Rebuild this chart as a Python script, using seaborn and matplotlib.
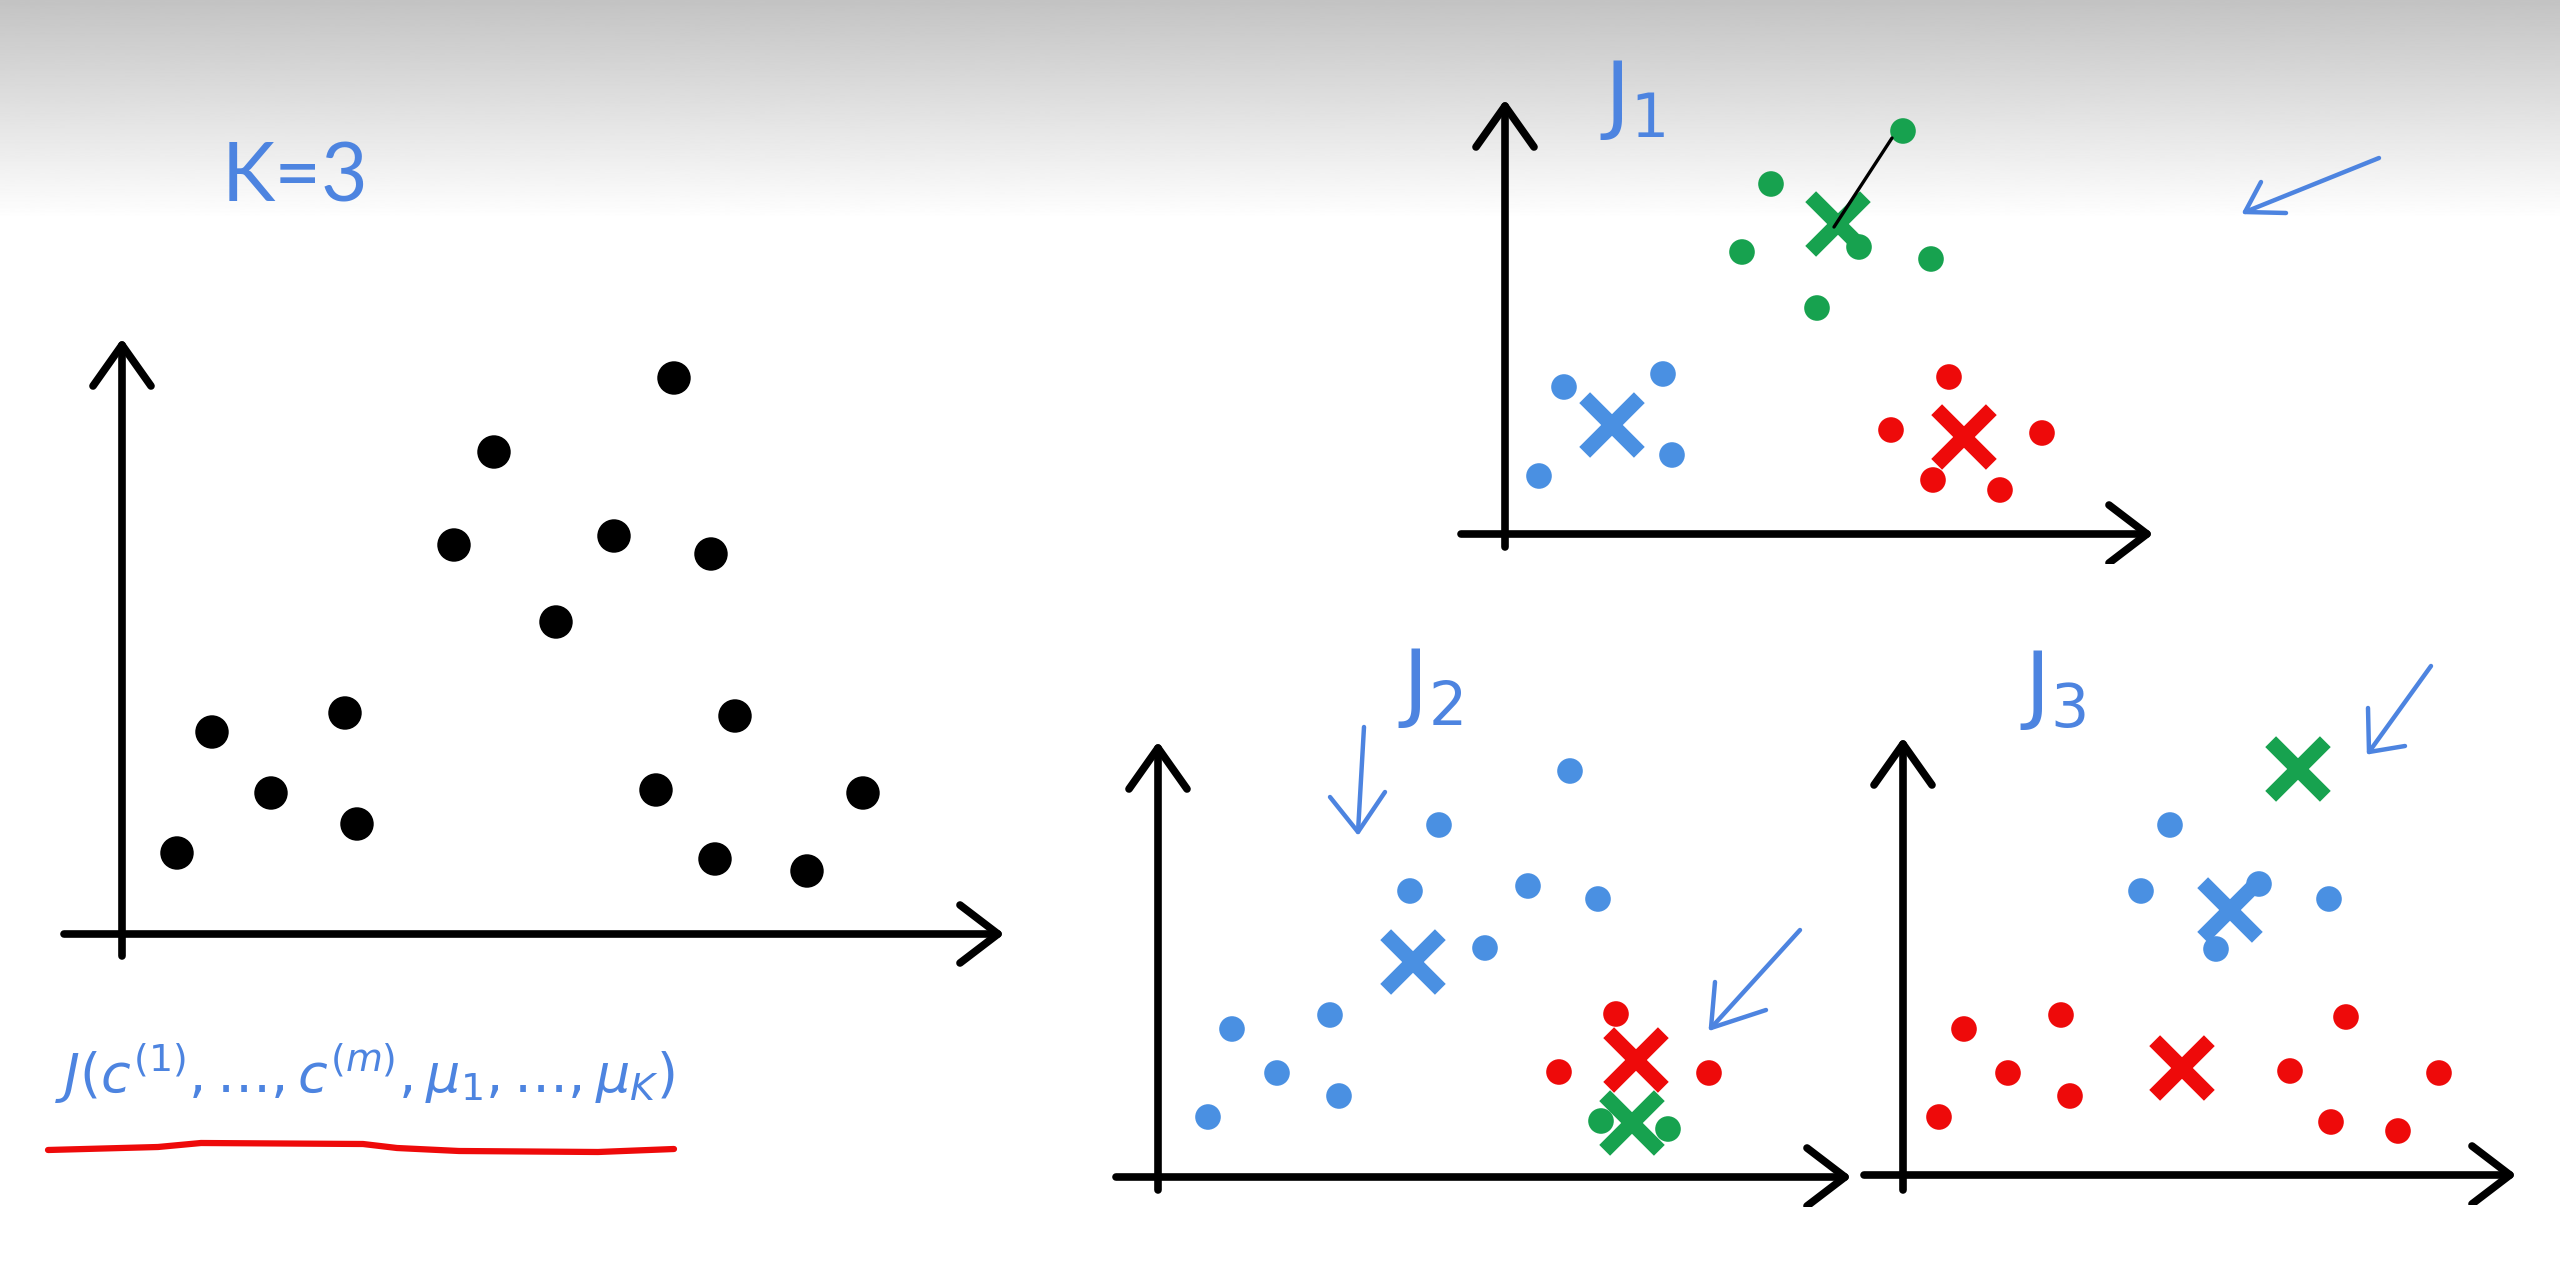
import numpy as np
import pandas as pd
import seaborn as sns
import matplotlib.pyplot as plt

sns.set_style("white")
plt.rcParams['font.family'] = ['Lato', 'DejaVu Sans']
plt.rcParams['mathtext.fontset'] = 'dejavusans'

W, H = 2560, 1262
INK = "#4d84e0"
pal = {"blue": "#4a90e2", "red": "#ee0a0a", "green": "#17a24f", "black": "black"}

# raw data, K=3 (coords from the axis origin)
raw_x = [55, 90, 149, 223, 235, 332, 372, 434, 492, 552, 589, 613, 534, 593, 685, 741]
raw_y = [81, 202, 141, 221, 110, 389, 482, 312, 398, 556, 380, 218, 144, 75, 63, 141]

# J1
j1_x = [398, 266, 237, 312, 426, 354, 59, 158, 34, 167, 444, 386, 537, 428, 495]
j1_y = [403, 350, 282, 226, 275, 287, 147, 160, 58, 79, 157, 104, 101, 54, 44]
j1_c = ["green"] * 6 + ["blue"] * 4 + ["red"] * 5
j1_mx = [333, 107, 459]
j1_my = [310, 109, 97]
j1_mc = ["green", "blue", "red"]

# J2
j2_x = [412, 281, 252, 370, 440, 327, 172, 74, 119, 181, 50, 458, 401, 551, 443, 510]
j2_y = [406, 352, 286, 291, 278, 229, 162, 148, 104, 81, 60, 163, 105, 104, 56, 48]
j2_c = ["blue"] * 11 + ["red"] * 3 + ["green"] * 2
j2_mx = [255, 478, 474]
j2_my = [215, 117, 54]
j2_mc = ["blue", "red", "green"]

# J3
j3_x = [267, 238, 426, 356, 313, 61, 158, 105, 167, 36, 443, 387, 536, 428, 495]
j3_y = [350, 284, 276, 291, 226, 146, 160, 102, 79, 58, 158, 104, 102, 53, 44]
j3_c = ["blue"] * 5 + ["red"] * 10
j3_mx = [395, 327, 279]
j3_my = [406, 265, 107]
j3_mc = ["green", "blue", "red"]

fig = plt.figure(figsize=(25.6, 12.62), dpi=100)

# background + handwriting
bg = fig.add_axes([0, 0, 1, 1])
bg.set_xlim(0, W)
bg.set_ylim(H, 0)
bg.axis('off')
grad = np.linspace(195, 255, 256) / 255.0
bg.imshow(np.repeat(grad[:, None], 2, axis=1), cmap='gray', vmin=0, vmax=1,
          extent=[0, W, 220, 0], aspect='auto', zorder=0)
bg.text(222, 178, "K=3", color=INK, fontsize=58, va='center', ha='left')
bg.text(1600, 100, r"$\mathrm{J}_1$", color=INK, fontsize=62, va='center', ha='left')
bg.text(1398, 688, r"$\mathrm{J}_2$", color=INK, fontsize=62, va='center', ha='left')
bg.text(2020, 690, r"$\mathrm{J}_3$", color=INK, fontsize=62, va='center', ha='left')
bg.text(55, 1092, r"$J(c^{(1)},\ldots,c^{(m)},\mu_1,\ldots,\mu_K)$", color=INK,
        fontsize=39, va='baseline', ha='left')
bg.plot([48, 158, 201, 363, 397, 459, 598, 674], [1150, 1147, 1143, 1144, 1148, 1151, 1152, 1149],
        color="#ee0a0a", lw=4.5, solid_capstyle='round')


def panel(ox, oy, x0, x1, y0, y1):
    ax = fig.add_axes([(ox + x0) / W, (H - oy + y0) / H, (x1 - x0) / W, (y1 - y0) / H])
    ax.set_xlim(x0, x1)
    ax.set_ylim(y0, y1)
    ax.axis('off')
    ax.patch.set_alpha(0)
    return ax


def draw_axes(ax, xl, xr, yb, yt):
    kw = dict(color='black', lw=5.5, solid_capstyle='round', solid_joinstyle='round')
    ax.plot([0, 0], [yb, yt], **kw)
    ax.plot([xl, xr], [0, 0], **kw)
    ax.plot([-29, 0, 29], [yt - 41, yt, yt - 41], **kw)
    ax.plot([xr - 38, xr, xr - 38], [29, 0, -29], **kw)


def pen_arrow(ax, start, tip, h1, h2):
    kw = dict(color=INK, lw=3.2, solid_capstyle='round', solid_joinstyle='round')
    ax.plot([start[0], tip[0]], [start[1], tip[1]], **kw)
    ax.plot([h1[0], tip[0], h2[0]], [h1[1], tip[1], h2[1]], **kw)


def clusters(ax, x, y, c, mx, my, mc):
    pts = pd.DataFrame({"x": x, "y": y, "c": c})
    cen = pd.DataFrame({"x": mx, "y": my, "c": mc})
    sns.scatterplot(data=pts, x="x", y="y", hue="c", palette=pal, s=340,
                    edgecolor='none', legend=False, ax=ax, zorder=3)
    sns.scatterplot(data=cen, x="x", y="y", hue="c", palette=pal, marker='x', s=1550,
                    linewidth=11, edgecolor=None, legend=False, ax=ax, zorder=4)


# K=3 raw
ax1 = panel(122, 934, -70, 900, -40, 610)
draw_axes(ax1, -58, 876, -22, 589)
sns.scatterplot(x=raw_x, y=raw_y, color='black', s=580, edgecolor='none', ax=ax1, zorder=3)

# J1
ax2 = panel(1505, 534, -60, 900, -30, 450)
draw_axes(ax2, -44, 642, -13, 428)
ax2.plot([387, 329], [396, 307], color='black', lw=2.4, zorder=5)
clusters(ax2, j1_x, j1_y, j1_c, j1_mx, j1_my, j1_mc)
pen_arrow(ax2, (874, 376), (740, 322), (756, 352), (781, 321))

# J2
ax3 = panel(1158, 1177, -60, 700, -30, 460)
draw_axes(ax3, -42, 687, -13, 429)
clusters(ax3, j2_x, j2_y, j2_c, j2_mx, j2_my, j2_mc)
pen_arrow(ax3, (206, 450), (200, 345), (172, 380), (227, 385))
pen_arrow(ax3, (642, 247), (553, 149), (557, 195), (608, 167))

# J3
ax4 = panel(1903, 1175, -50, 650, -30, 520)
draw_axes(ax4, -39, 607, -15, 431)
clusters(ax4, j3_x, j3_y, j3_c, j3_mx, j3_my, j3_mc)
pen_arrow(ax4, (528, 509), (466, 423), (465, 467), (502, 429))

fig.savefig("out.png", dpi=100)
